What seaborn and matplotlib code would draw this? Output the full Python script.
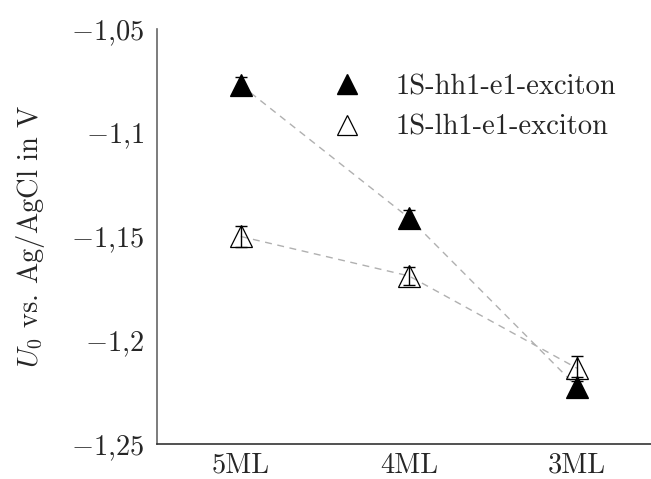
import matplotlib
matplotlib.use("Agg")
import matplotlib.pyplot as plt
from matplotlib.lines import Line2D
import seaborn as sns
import pandas as pd

# values
layers = ["5ML", "4ML", "3ML"]
hh = [-1.077, -1.141, -1.2225]
hh_err = [0.004, 0.004, 0.005]
lh = [-1.150, -1.169, -1.2135]
lh_err = [0.005, 0.0045, 0.006]
yticks = [-1.25, -1.2, -1.15, -1.1, -1.05]
ytick_labels = ["$-1{,}25$", "$-1{,}2$", "$-1{,}15$", "$-1{,}1$", "$-1{,}05$"]
series_names = ["1S-hh1-e1-exciton", "1S-lh1-e1-exciton"]

df = pd.DataFrame({
    "layer": layers * 2,
    "U0": hh + lh,
    "err": hh_err + lh_err,
    "series": [series_names[0]] * 3 + [series_names[1]] * 3,
})

FS = 20.5

sns.set_style("white")
plt.rcParams["font.family"] = ["cmr10"]
plt.rcParams["mathtext.fontset"] = "cm"
plt.rcParams["axes.formatter.use_mathtext"] = True
plt.rcParams["font.size"] = FS

fig = plt.figure(figsize=(6.51, 4.79), dpi=100)
ax = fig.add_axes([0.2407, 0.0731, 0.7593, 0.8664])

# dashed connectors
sns.lineplot(data=df, x="layer", y="U0", units="series", estimator=None,
             sort=False, color="#b0b0b0", linestyle=(0, (5, 4)), lw=1.0,
             ax=ax, legend=False)

# markers
d_hh = df[df.series == series_names[0]]
d_lh = df[df.series == series_names[1]]
ax.plot(d_hh.layer, d_hh.U0, ls="none", marker="^", ms=15.5, mfc="black",
        mec="black", mew=0.9, zorder=3)
ax.plot(d_lh.layer, d_lh.U0, ls="none", marker="^", ms=15.5, mfc="none",
        mec="black", mew=0.9, zorder=4)

# error bars
for d in (d_hh, d_lh):
    ax.errorbar(d.layer, d.U0, yerr=d.err, fmt="none", ecolor="black",
                elinewidth=1.0, capsize=4.5, capthick=1.0, zorder=5)

ax.set_xlim(-0.5, 2.44)
ax.set_ylim(-1.25, -1.05)
ax.set_yticks(yticks)
ax.set_yticklabels(ytick_labels)
ax.set_xlabel("")
ax.set_ylabel(r"$U_0$ vs. Ag/AgCl in V", fontsize=FS, labelpad=17)

for s in ("top", "right"):
    ax.spines[s].set_visible(False)
ax.spines["left"].set_color("#666666")
ax.spines["bottom"].set_color("#333333")
ax.spines["left"].set_linewidth(1.2)
ax.spines["bottom"].set_linewidth(1.2)
ax.tick_params(axis="both", direction="in", length=4, width=0.8,
               color="#bbbbbb", labelsize=FS)
ax.tick_params(axis="y", pad=9)
ax.tick_params(axis="x", pad=6)

handles = [
    Line2D([], [], ls="none", marker="^", ms=15, mfc="black", mec="black"),
    Line2D([], [], ls="none", marker="^", ms=15, mfc="none", mec="black", mew=0.9),
]
ax.legend(handles, series_names, loc="upper left", bbox_to_anchor=(0.5115, 0.846),
          bbox_transform=fig.transFigure, frameon=False, fontsize=FS,
          borderpad=0, borderaxespad=0,
          handlelength=1.0, handletextpad=1.18, labelspacing=0.5)

fig.savefig("out.png", dpi=100)
